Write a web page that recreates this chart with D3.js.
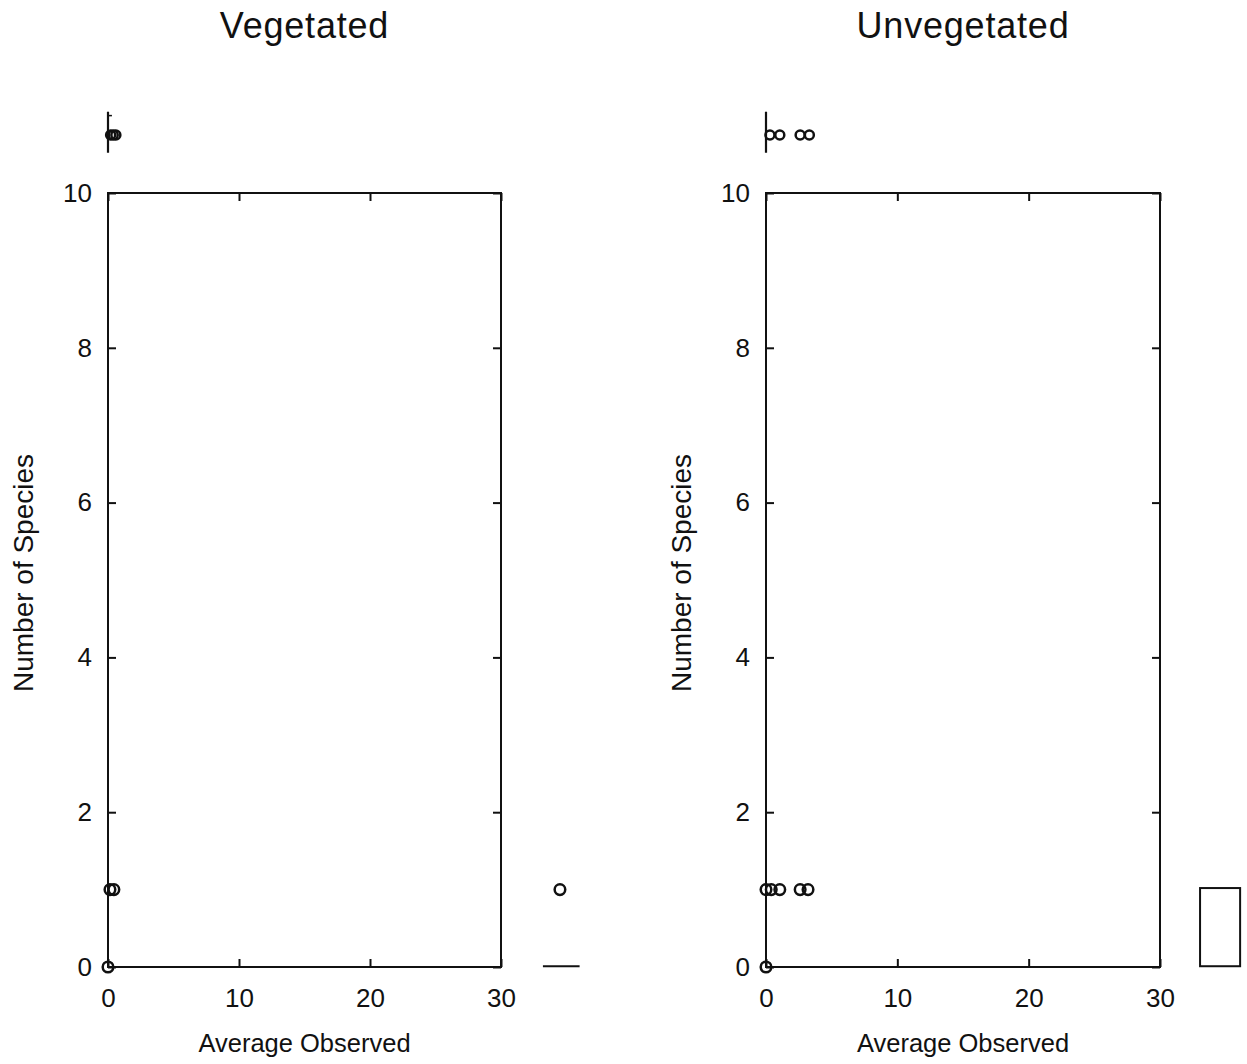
<!DOCTYPE html>
<html>
<head>
<meta charset="utf-8">
<script src="https://cdn.jsdelivr.net/npm/d3@7"></script>
<style>
  html, body { margin: 0; padding: 0; background: #fff; }
  svg { display: block; font-family: "Liberation Sans", Arial, Helvetica, sans-serif; }
</style>
</head>
<body>
<svg id="chart" width="1247" height="1064"></svg>
<script>
// Axis ticks
const xTicks = [0, 10, 20, 30];
const yTicks = [0, 2, 4, 6, 8, 10];

// Vegetated sites: average observed vs number of species
const vegObserved = [0, 0.15, 0.45, 34.5];
const vegSpecies  = [0, 1, 1, 1];
// Vegetated marginal row (plotted above the frame)
const vegTopObserved = [0.2, 0.4, 0.6];

// Unvegetated sites
const unvegObserved = [0, 0, 0.4, 1.05, 2.6, 3.2];
const unvegSpecies  = [0, 1, 1, 1, 1, 1];
// Unvegetated marginal row
const unvegTopObserved = [0.3, 1.05, 2.6, 3.3];

// Row position of the marginal strip, in species units
const topRow = 10.75;

const svg = d3.select("#chart");
const INK = "#111";

const panels = [
  { title: "Vegetated",   left: 108, right: 501, obs: vegObserved,   sp: vegSpecies,   top: vegTopObserved,   overflow: "line" },
  { title: "Unvegetated", left: 766, right: 1160, obs: unvegObserved, sp: unvegSpecies, top: unvegTopObserved, overflow: "box" }
];

const plotTop = 193, plotBottom = 967;

panels.forEach(p => {
  const x = d3.scaleLinear().domain([0, 30]).range([p.left, p.right]);
  const y = d3.scaleLinear().domain([0, 10]).range([plotBottom, plotTop]);
  const g = svg.append("g");

  // Title
  g.append("text")
    .attr("x", (p.left + p.right) / 2).attr("y", 38)
    .attr("text-anchor", "middle")
    .attr("font-size", 36).attr("letter-spacing", 0.8)
    .attr("fill", INK)
    .text(p.title);

  // Frame
  g.append("rect")
    .attr("x", x(0)).attr("y", y(10))
    .attr("width", x(30) - x(0)).attr("height", y(0) - y(10))
    .attr("fill", "none").attr("stroke", INK).attr("stroke-width", 2);

  // Axes with inward ticks
  const style = sel => {
    sel.select(".domain").remove();
    sel.selectAll(".tick line").attr("stroke", INK).attr("stroke-width", 2);
    sel.selectAll(".tick text").attr("fill", INK).attr("font-size", 26)
      .attr("font-family", "Liberation Sans, Arial, sans-serif");
  };

  g.append("g").attr("transform", `translate(0,${y(0)})`)
    .call(d3.axisBottom(x).tickValues(xTicks).tickSize(-8).tickPadding(22)).call(style);
  g.append("g").attr("transform", `translate(0,${y(10)})`)
    .call(d3.axisTop(x).tickValues(xTicks).tickSize(-8).tickFormat("")).call(style);
  g.append("g").attr("transform", `translate(${x(0)},0)`)
    .call(d3.axisLeft(y).tickValues(yTicks).tickSize(-8).tickPadding(16)).call(style);
  g.append("g").attr("transform", `translate(${x(30)},0)`)
    .call(d3.axisRight(y).tickValues(yTicks).tickSize(-8).tickFormat("")).call(style);

  // Axis titles
  g.append("text")
    .attr("x", (p.left + p.right) / 2).attr("y", 1052)
    .attr("text-anchor", "middle").attr("font-size", 25.5)
    .attr("fill", INK).text("Average Observed");
  g.append("text")
    .attr("transform", `translate(${p.left - 75},${(plotTop + plotBottom) / 2 - 7}) rotate(-90)`)
    .attr("text-anchor", "middle").attr("font-size", 28)
    .attr("fill", INK).text("Number of Species");

  // Marginal strip above the frame
  g.append("line")
    .attr("x1", x(0)).attr("x2", x(0))
    .attr("y1", y(11.05)).attr("y2", y(10.52))
    .attr("stroke", INK).attr("stroke-width", 2.2);
  if (p.overflow === "line") {
    g.append("line")
      .attr("x1", x(0)).attr("x2", x(0.3))
      .attr("y1", y(11.0)).attr("y2", y(11.0))
      .attr("stroke", INK).attr("stroke-width", 1.5);
  }
  g.selectAll("circle.top").data(p.top).join("circle")
    .attr("class", "top")
    .attr("cx", d => x(d)).attr("cy", y(topRow)).attr("r", 4.5)
    .attr("fill", "none").attr("stroke", INK).attr("stroke-width", 2.5);

  // Overflow region past the x range
  if (p.overflow === "line") {
    g.append("line")
      .attr("x1", x(33.2)).attr("x2", x(36.0))
      .attr("y1", y(0.01)).attr("y2", y(0.01))
      .attr("stroke", INK).attr("stroke-width", 2.2);
  } else {
    g.append("rect")
      .attr("x", x(33.05)).attr("y", y(1.02))
      .attr("width", x(36.1) - x(33.05)).attr("height", y(0.01) - y(1.02))
      .attr("fill", "none").attr("stroke", INK).attr("stroke-width", 2);
  }

  // Data points
  const pts = p.obs.map((o, i) => ({ o, s: p.sp[i] }));
  g.selectAll("circle.pt").data(pts).join("circle")
    .attr("class", "pt")
    .attr("cx", d => x(d.o)).attr("cy", d => y(d.s)).attr("r", 5.3)
    .attr("fill", "none").attr("stroke", INK).attr("stroke-width", 2.5);
});
</script>
</body>
</html>
